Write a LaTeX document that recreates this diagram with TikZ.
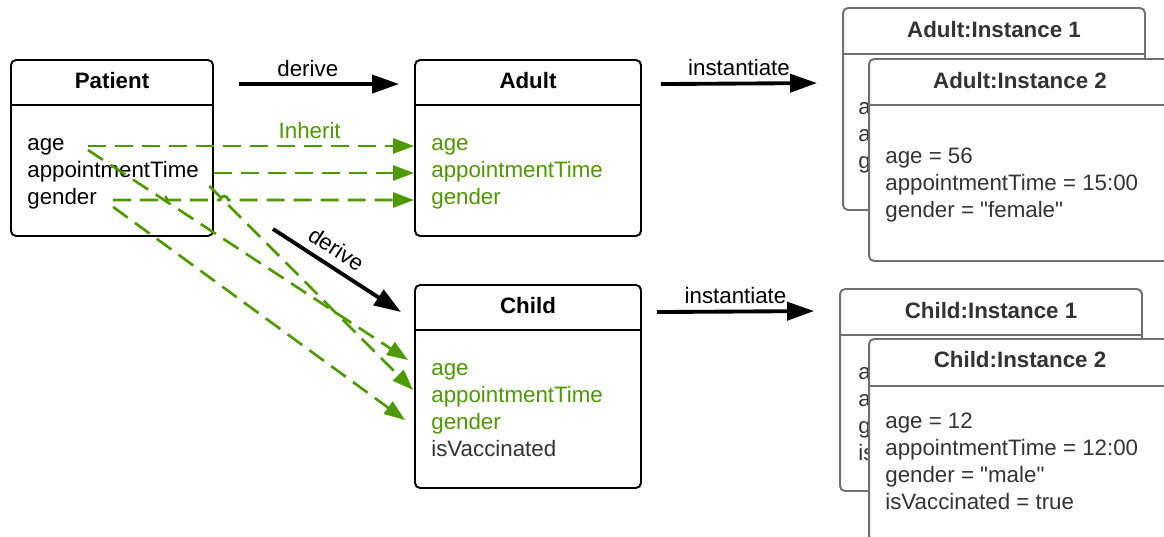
\documentclass[tikz,border=0pt]{standalone}
\usepackage{fontspec}
\setmainfont{Liberation Sans}[Ligatures=TeXOff]
\usetikzlibrary{arrows.meta}
\definecolor{inhgreen}{RGB}{77,153,0}
\definecolor{instgray}{RGB}{112,112,112}
\definecolor{insttext}{RGB}{51,51,51}

\begin{document}
\begin{tikzpicture}[x=0.02cm,y=-0.02cm]
\tikzstyle{every node}=[font=\fontsize{12.7}{15.3}\selectfont]
\tikzstyle{classbox}=[draw, line width=1.1pt, rounded corners=0.1cm, fill=white, inner sep=0pt, minimum width=4.52cm, minimum height=3.52cm]
\tikzstyle{instbox}=[classbox, draw=instgray, minimum width=6.04cm, minimum height=4.04cm]
\tikzstyle{title}=[font=\fontsize{12.7}{15.3}\selectfont\bfseries]
\tikzstyle{insttitle}=[title, text=insttext]
\tikzstyle{attr}=[anchor=west, inner sep=0pt, text height=11.5pt, text depth=6pt]
\tikzstyle{instattr}=[attr, text=insttext]
\tikzstyle{flow}=[line width=2.2pt, -{Triangle[length=0.54cm,width=0.36cm]}]
\tikzstyle{inh}=[inhgreen, line width=1.5pt, dash pattern=on 0.36cm off 0.18cm, -{Triangle[length=0.42cm,width=0.3cm]}]

\useasboundingbox (0,0) rectangle (1164,537);
\clip (0,0) rectangle (1164,537);

% classes
\node[classbox, minimum width=4.04cm] (P) at (112,148) {};
\node[title] (Ptitle) at (112,81) {Patient};
\draw[line width=1.1pt] ([yshift=-0.92cm]P.north west) -- ([yshift=-0.92cm]P.north east);
\node[attr] (Pa) at (27,146) {age};
\node[attr] (Pt) at (27,173) {appointmentTime};
\node[attr] (Pg) at (27,200) {gender};

\node[classbox] (A) at (528,148) {};
\node[title] (Atitle) at (528,81) {Adult};
\draw[line width=1.1pt] ([yshift=-0.92cm]A.north west) -- ([yshift=-0.92cm]A.north east);
\node[attr, text=inhgreen] (Aa) at (431,146) {age};
\node[attr, text=inhgreen] (At) at (431,173) {appointmentTime};
\node[attr, text=inhgreen] (Ag) at (431,200) {gender};

\node[classbox, minimum height=4.06cm] (C) at (528,386.5) {};
\node[title] (Ctitle) at (528,306) {Child};
\draw[line width=1.1pt] ([yshift=-0.92cm]C.north west) -- ([yshift=-0.92cm]C.north east);
\node[attr, text=inhgreen] (Ca) at (431,371) {age};
\node[attr, text=inhgreen] (Ct) at (431,398) {appointmentTime};
\node[attr, text=inhgreen] (Cg) at (431,425) {gender};
\node[attr, text=insttext] (Cv) at (431,452) {isVaccinated};

% instances
\node[instbox] (AI1) at (994,109) {};
\node[insttitle] at (994,30) {Adult:Instance 1};
\draw[instgray, line width=1.1pt] ([yshift=-0.94cm]AI1.north west) -- ([yshift=-0.94cm]AI1.north east);
\node[instattr] at (858,110) {age};
\node[instattr] at (858,137) {appointmentTime};
\node[instattr] at (858,164) {gender};

\node[instbox] (AI2) at (1020,160) {};
\node[insttitle] at (1020,81) {Adult:Instance 2};
\draw[instgray, line width=1.1pt] ([yshift=-0.94cm]AI2.north west) -- ([yshift=-0.94cm]AI2.north east);
\node[instattr] at (885,159) {age = 56};
\node[instattr] at (885,186) {appointmentTime = 15:00};
\node[instattr] at (885,213) {gender = "female"};

\node[instbox] (CI1) at (991,390) {};
\node[insttitle] at (991,311) {Child:Instance 1};
\draw[instgray, line width=1.1pt] ([yshift=-0.94cm]CI1.north west) -- ([yshift=-0.94cm]CI1.north east);
\node[instattr] at (858,375) {age};
\node[instattr] at (858,402) {appointmentTime};
\node[instattr] at (858,429) {gender};
\node[instattr] at (858,456) {isVaccinated};

\node[instbox] (CI2) at (1020,440) {};
\node[insttitle] at (1020,360) {Child:Instance 2};
\draw[instgray, line width=1.1pt] ([yshift=-0.96cm]CI2.north west) -- ([yshift=-0.96cm]CI2.north east);
\node[instattr] at (885,424) {age = 12};
\node[instattr] at (885,451) {appointmentTime = 12:00};
\node[instattr] at (885,478) {gender = "male"};
\node[instattr] at (885,505) {isVaccinated = true};

% derive / instantiate
\draw[flow] ([xshift=0.5cm,yshift=-0.5cm]P.north east) -- ([xshift=-0.3cm,yshift=-0.5cm]A.north west) node[pos=0.43, above] {derive};
\draw[flow] ([xshift=0.38cm,yshift=-0.5cm]A.north east) -- ([xshift=-1.02cm,yshift=-0.5cm]AI2.north west) node[midway, above] {instantiate};
\draw[flow] ([xshift=1.18cm,yshift=0.16cm]P.south east) -- ([xshift=-0.26cm,yshift=-0.56cm]C.north west) node[pos=0.42, above=1pt, sloped] {derive};
\draw[flow] ([xshift=0.3cm,yshift=-0.56cm]C.north east) -- ([xshift=-0.5cm,yshift=-0.46cm]CI1.north west) node[midway, above] {instantiate};

% inherit
\draw[inh] ([xshift=0.46cm]Pa.east) -- (Aa -| A.west) node[pos=0.68, above] {Inherit};
\draw[inh] (Pt -| P.east) -- (At -| A.west);
\draw[inh] ([xshift=0.32cm]Pg.east) -- ++(46,0) arc[start angle=180, end angle=0, radius=0.08cm]
  -- ++(53,0) arc[start angle=180, end angle=0, radius=0.08cm] -- (Ag -| A.west);
\draw[inh] ([xshift=0.46cm,yshift=-0.08cm]Pa.east) -- ([xshift=-0.46cm,yshift=0.22cm]Ca.west);
\draw[inh] ([xshift=0.2cm,yshift=-0.26cm]Pt.east) -- ([xshift=-0.36cm,yshift=0.16cm]Ct.west);
\draw[inh] ([xshift=0.32cm,yshift=-0.14cm]Pg.east) -- ([xshift=-0.52cm,yshift=0.1cm]Cg.west);

\end{tikzpicture}
\end{document}
